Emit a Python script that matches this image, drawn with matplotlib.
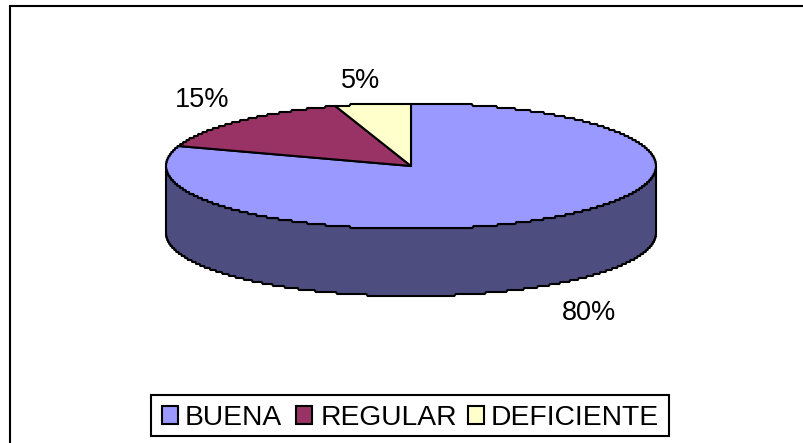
import numpy as np
import matplotlib
matplotlib.use("Agg")
import matplotlib.pyplot as plt
from matplotlib.patches import Polygon, Rectangle

categories = ["BUENA", "REGULAR", "DEFICIENTE"]
values = [80, 15, 5]
labels = ["80%", "15%", "5%"]
colors = ["#9999ff", "#993366", "#ffffcc"]
side_colors = ["#4d4d80", "#4d1a33", "#808066"]
label_px = [(589, 320.5), (201.7, 106.7), (361, 88)]

W, H = 804, 443
CX, CY, RX, RY, DEPTH = 411, 166, 245, 63, 67
LW = 1.5
STEP = 2

plt.rcParams["font.family"] = ["Liberation Sans", "DejaVu Sans"]
fig = plt.figure(figsize=(W / 100, H / 100), dpi=100)
ax = fig.add_axes([0, 0, 1, 1])
ax.set_xlim(0, W)
ax.set_ylim(H, 0)
ax.axis("off")


def rim(a, b, dy=0):
    t = np.radians(np.linspace(a, b, max(int(abs(b - a)) * 3, 2)))
    x = CX + RX * np.sin(t)
    y = CY + dy - RY * np.cos(t)
    # The source rim is drawn with small stair-steps
    y = np.round(y / STEP) * STEP
    return np.column_stack([x, y])


# Outer frame: right and bottom edges fall outside the canvas
ax.add_patch(Rectangle((10, 6), 900, 600, fc="white", ec="black", lw=1.5))

# Pie side and top, clockwise from 12 o'clock
edges = np.cumsum([0] + values) / sum(values) * 360
for i in range(len(values)):
    a, b = edges[i], edges[i + 1]
    lo, hi = max(a, 90), min(b, 270)
    if lo < hi:
        top, bottom = rim(lo, hi), rim(lo, hi, DEPTH)
        ax.add_patch(Polygon(np.vstack([top, bottom[::-1]]), fc=side_colors[i],
                             ec="black", lw=LW, joinstyle="round"))
for i in range(len(values)):
    pts = np.vstack([[[CX, CY]], rim(edges[i], edges[i + 1])])
    ax.add_patch(Polygon(pts, fc=colors[i], ec="black", lw=LW, joinstyle="round"))

for text, (x, y) in zip(labels, label_px):
    ax.text(x, y, text, fontsize=19.5, ha="center", va="baseline", color="black")

# Legend
ax.add_patch(Rectangle((151.5, 394.5), 517.5, 41, fc="white", ec="black", lw=1.5))
box_x = [162, 296, 468]
text_x = [184.5, 320.5, 491]
for name, color, bx, tx in zip(categories, colors, box_x, text_x):
    ax.add_patch(Rectangle((bx, 406), 16.5, 18, fc=color, ec="black", lw=1.5))
    ax.text(tx, 425, name, fontsize=20.3, ha="left", va="baseline", color="black")

fig.savefig("out.png", dpi=100, facecolor="white")
